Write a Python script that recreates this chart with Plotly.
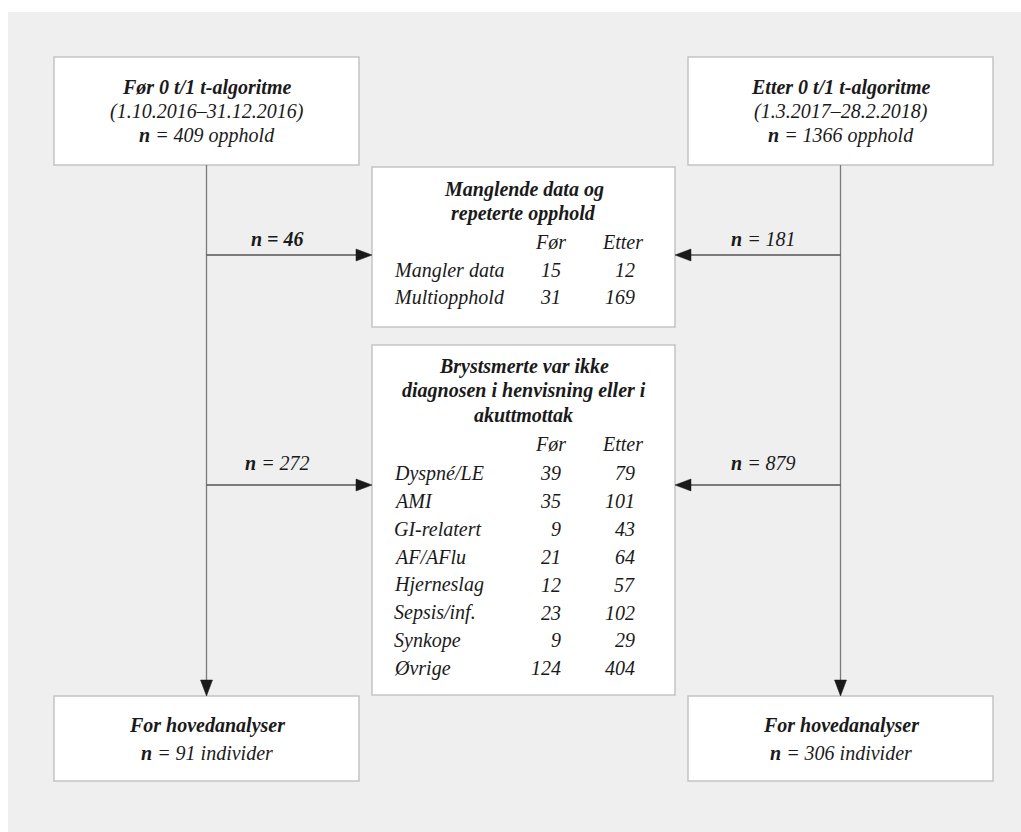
import plotly.graph_objects as go

# ---------------- data ----------------
group_titles = ["Før 0 t/1 t-algoritme", "Etter 0 t/1 t-algoritme"]
group_periods = ["1.10.2016–31.12.2016", "1.3.2017–28.2.2018"]
n_start = [409, 1366]
n_excl_missing = [46, 181]
n_excl_diag = [272, 879]
n_final = [91, 306]

missing_title = ["Manglende data og", "repeterte opphold"]
missing_cats = ["Mangler data", "Multiopphold"]
missing_before = [15, 31]
missing_after = [12, 169]

diag_title = ["Brystsmerte var ikke", "diagnosen i henvisning eller i", "akuttmottak"]
diag_cats = ["Dyspné/LE", "AMI", "GI-relatert", "AF/AFlu", "Hjerneslag",
             "Sepsis/inf.", "Synkope", "Øvrige"]
diag_before = [39, 35, 9, 21, 12, 23, 9, 124]
diag_after = [79, 101, 43, 64, 57, 102, 29, 404]

col_headers = ["Før", "Etter"]
final_title = "For hovedanalyser"

# ---------------- style ----------------
W, H = 1021, 832
FONT = "Liberation Serif"
FS = 20
TXT = "#1a1a1a"
PANEL = "#efefef"
BOX_LINE = "#c4c4c4"
FLOW_LINE = "#7a7a7a"
ARROW = "#1a1a1a"

shapes = []
annotations = []


def box(x0, y0, x1, y1):
    shapes.append(dict(type="rect", x0=x0, y0=y0, x1=x1, y1=y1,
                       line=dict(color=BOX_LINE, width=1.5), fillcolor="white",
                       layer="below"))


def text(x, y, s, anchor="center", size=FS):
    annotations.append(dict(x=x, y=y, text=s, showarrow=False, xanchor=anchor,
                            yanchor="middle", font=dict(family=FONT, size=size, color=TXT)))


def line(x0, y0, x1, y1, color=FLOW_LINE, width=1.3):
    shapes.append(dict(type="line", x0=x0, y0=y0, x1=x1, y1=y1,
                       line=dict(color=color, width=width), layer="above"))


def tip(x, y, direction, L=16, half=6):
    if direction == "right":
        p = f"M{x},{y} L{x-L},{y-half} L{x-L},{y+half} Z"
    elif direction == "left":
        p = f"M{x},{y} L{x+L},{y-half} L{x+L},{y+half} Z"
    else:  # down
        p = f"M{x},{y} L{x-half},{y-L} L{x+half},{y-L} Z"
    shapes.append(dict(type="path", path=p, fillcolor=ARROW,
                       line=dict(color=ARROW, width=0.5), layer="above"))


# white page strips at top and left (panel is the grey paper)
shapes.append(dict(type="rect", xref="paper", yref="paper", x0=0, x1=1.01, y0=1 - 12 / H, y1=1.01,
                   line=dict(width=0), fillcolor="white", layer="below"))
shapes.append(dict(type="rect", xref="paper", yref="paper", x0=-0.01, x1=8 / W, y0=-0.01, y1=1.01,
                   line=dict(width=0), fillcolor="white", layer="below"))

# geometry (page pixel coordinates)
side_boxes = [(54, 359), (688, 993)]
flow_x = [206.5, 840.5]
mid_x0, mid_x1 = 372, 675
top_y0, top_y1 = 57, 165
bot_y0, bot_y1 = 696, 781
box1_y0, box1_y1 = 167, 327
box2_y0, box2_y1 = 345, 695
arrow1_y, arrow2_y = 255, 485

# top & bottom side boxes
for i, (x0, x1) in enumerate(side_boxes):
    cx = (x0 + x1) / 2
    box(x0, top_y0, x1, top_y1)
    text(cx, 87, f"<b><i>{group_titles[i]}</i></b>")
    text(cx, 111, f"<i>({group_periods[i]})</i>")
    text(cx, 135, f"<i><b>n</b> = {n_start[i]} opphold</i>")
    box(x0, bot_y0, x1, bot_y1)
    text(cx, 725, f"<b><i>{final_title}</i></b>")
    text(cx, 753, f"<i><b>n</b> = {n_final[i]} individer</i>")

# flow lines
for i, fx in enumerate(flow_x):
    line(fx, top_y1, fx, bot_y0 - 14)
    tip(fx, bot_y0, "down")

# horizontal arrows
line(flow_x[0], arrow1_y, mid_x0 - 14, arrow1_y, color="#555555")
tip(mid_x0, arrow1_y, "right")
line(flow_x[1], arrow1_y, mid_x1 + 14, arrow1_y, color="#555555")
tip(mid_x1, arrow1_y, "left")
line(flow_x[0], arrow2_y, mid_x0 - 14, arrow2_y, color="#555555")
tip(mid_x0, arrow2_y, "right")
line(flow_x[1], arrow2_y, mid_x1 + 14, arrow2_y, color="#555555")
tip(mid_x1, arrow2_y, "left")

lx, rx = 277, 763
text(lx, 239, f"<b><i>n = {n_excl_missing[0]}</i></b>")
text(rx, 239, f"<i><b>n</b> = {n_excl_missing[1]}</i>")
text(lx, 463, f"<i><b>n</b> = {n_excl_diag[0]}</i>")
text(rx, 463, f"<i><b>n</b> = {n_excl_diag[1]}</i>")

# middle boxes
label_x = 392
before_x = 563
after_x = 637
mid_cx = (mid_x0 + mid_x1) / 2

box(mid_x0, box1_y0, mid_x1, box1_y1)
for k, t in enumerate(missing_title):
    text(mid_cx, 189 + 24 * k, f"<b><i>{t}</i></b>")
text(550, 242, f"<i>{col_headers[0]}</i>")
text(622, 242, f"<i>{col_headers[1]}</i>")
for k, cat in enumerate(missing_cats):
    y = 270 + 27 * k
    text(label_x, y, f"<i>{cat}</i>", anchor="left")
    text(before_x, y, f"<i>{missing_before[k]}</i>", anchor="right")
    text(after_x, y, f"<i>{missing_after[k]}</i>", anchor="right")

box(mid_x0, box2_y0, mid_x1, box2_y1)
for k, t in enumerate(diag_title):
    text(mid_cx, 366 + 24.5 * k, f"<b><i>{t}</i></b>")
text(550, 444, f"<i>{col_headers[0]}</i>")
text(622, 444, f"<i>{col_headers[1]}</i>")
for k, cat in enumerate(diag_cats):
    y = 473 + 27.9 * k
    text(label_x, y, f"<i>{cat}</i>", anchor="left")
    text(before_x, y, f"<i>{diag_before[k]}</i>", anchor="right")
    text(after_x, y, f"<i>{diag_after[k]}</i>", anchor="right")

fig = go.Figure()
fig.update_layout(
    width=W, height=H,
    margin=dict(l=0, r=0, t=0, b=0),
    paper_bgcolor=PANEL, plot_bgcolor=PANEL,
    xaxis=dict(range=[0, W], visible=False, fixedrange=True),
    yaxis=dict(range=[H, 0], visible=False, fixedrange=True),
    shapes=shapes, annotations=annotations, showlegend=False,
)
fig.write_html(
    "out.html",
    config={"displayModeBar": False},
    post_script="document.body.style.margin='0';document.body.style.overflow='hidden';",
)
